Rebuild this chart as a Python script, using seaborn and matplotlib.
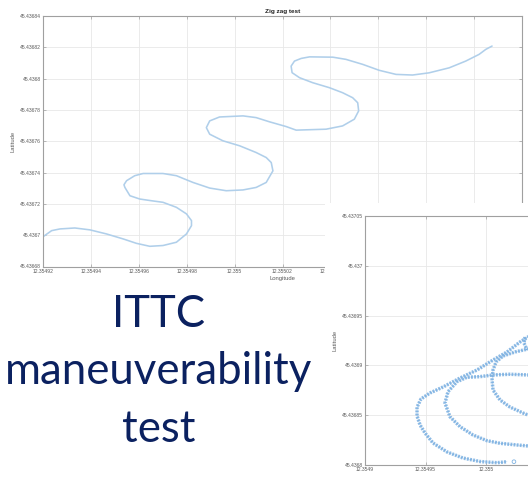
import numpy as np
import pandas as pd
import matplotlib
matplotlib.use("Agg")
import matplotlib.pyplot as plt
import seaborn as sns

# --- zig zag track: offsets from (12.35492 E, 45.43668 N) in micro-degrees ---
zz_lon = [0.1, 3.6, 7.1, 13.3, 19.6, 26.5, 33.5, 39.0, 44.6, 50.1, 55.7, 59.9, 62.0, 62.0,
          59.9, 55.7, 50.1, 45.3, 40.4, 36.3, 34.2, 33.8, 34.9, 38.3, 41.8, 50.1, 55.7, 62.6,
          69.6, 76.5, 83.5, 89.0, 93.2, 96.0, 95.3, 93.2, 89.0, 82.1, 75.1, 69.6, 68.2, 69.6,
          73.7, 83.5, 89.0, 94.6, 101.5, 105.7, 118.2, 125.1, 130.0, 131.8, 131.4, 129.3, 125.1,
          119.6, 112.6, 107.1, 104.0, 103.6, 105.0, 107.8, 111.3, 121.0, 126.5, 133.5, 140.4,
          147.4, 154.3, 161.2, 169.6, 176.5, 182.1, 184.9, 187.5]
zz_lat = [19.1, 22.9, 24.0, 24.6, 23.4, 20.8, 17.6, 14.8, 12.9, 13.4, 15.5, 20.8, 26.1, 29.3,
          33.6, 37.8, 41.0, 42.0, 43.1, 45.2, 50.5, 52.2, 54.8, 58.0, 59.4, 59.4, 58.0, 53.7,
          50.1, 48.4, 48.9, 50.5, 53.7, 61.1, 66.4, 69.6, 72.8, 77.1, 80.3, 84.5, 88.7, 93.0,
          95.5, 96.2, 95.1, 92.4, 89.4, 87.1, 87.7, 89.8, 94.1, 99.4, 104.6, 107.8, 111.0,
          114.2, 117.4, 120.6, 123.8, 128.0, 131.2, 132.9, 133.9, 133.7, 132.3, 129.1, 125.3,
          122.7, 122.3, 123.7, 126.9, 131.2, 135.5, 138.7, 140.8]

# --- turning test track strands: offsets from (12.3549 E, 45.4368 N) in micro-degrees ---
outer_lon = [144.6, 134.7, 128.1, 117.4, 105.8, 92.6, 78.5, 64.5, 53.7, 46.3, 43.0, 43.0,
             45.5, 49.6, 56.2, 67.8, 81.0, 95.0, 109.1, 117.4]
outer_lat = [135.5, 128.5, 123.5, 113.5, 105.4, 95.4, 87.3, 78.3, 72.3, 66.3, 58.2, 49.2,
             40.2, 32.1, 22.1, 13.1, 7.0, 3.5, 2.3, 3.3]
middle_lon = [144.6, 134.7, 119.8, 105.8, 95.0, 84.3, 76.0, 68.6, 66.1, 70.2, 78.5, 89.3,
              100.8, 111.6, 125.6, 134.7, 144.6]
middle_lat = [89.4, 90.4, 91.1, 90.4, 88.7, 88.1, 83.6, 73.6, 62.2, 48.5, 38.5, 30.1,
              24.4, 21.8, 20.1, 19.1, 18.1]
inner_lon = [144.6, 134.7, 124.0, 114.0, 108.3, 105.8, 105.0, 105.8, 111.6, 119.8, 130.6,
             134.7, 144.6]
inner_lat = [118.5, 116.5, 113.5, 109.4, 103.4, 95.4, 85.3, 75.3, 65.3, 58.2, 52.2, 50.2, 46.2]
edge_lon = [132.2, 131.4, 133.9]
edge_lat = [128.5, 122.5, 115.5]
stray_lon = [123.1]
stray_lat = [3.3]

# tick labels (MATLAB style); labels hidden under the pasted panel are left blank
zz_xticks = ["12.35492", "12.35494", "12.35496", "12.35498", "12.355", "12.35502",
             "12.35504", "12.35506", "12.35508", "12.3551", "12.35512"]
zz_xshown = 7
zz_yticks = ["45.43668", "45.4367", "45.43672", "45.43674", "45.43676", "45.43678",
             "45.4368", "45.43682", "45.43684"]
tc_xticks = ["12.3549", "12.35495", "12.355", "12.35505"]
tc_xshown = 3
tc_yticks = ["45.4368", "45.43685", "45.4369", "45.43695", "45.437", "45.43705"]

sns.set_theme(style="whitegrid")
plt.rcParams["font.family"] = ["Liberation Sans", "DejaVu Sans"]

W, H = 528, 479
fig = plt.figure(figsize=(W / 100, H / 100), dpi=100)
fig.patch.set_facecolor("white")

TICK_COL = "#5a5a5a"
SPINE_COL = "#a0a0a0"
GRID_COL = "#e8e8e8"


def matlab_axes(ax, xt, yt, nx):
    ax.set_xticks([float(s) for s in xt])
    ax.set_xticklabels([s if i < nx else "" for i, s in enumerate(xt)])
    ax.set_yticks([float(s) for s in yt])
    ax.set_yticklabels(yt)
    ax.set_xlim(float(xt[0]), float(xt[-1]))
    ax.set_ylim(float(yt[0]), float(yt[-1]))
    ax.set_facecolor("white")
    ax.grid(True, color=GRID_COL, lw=0.6)
    for sp in ax.spines.values():
        sp.set_color(SPINE_COL)
        sp.set_linewidth(0.8)
        sp.set_visible(True)
    ax.tick_params(axis="both", which="both", direction="in", length=2.5, width=0.5,
                   color=SPINE_COL, labelsize=3.6, labelcolor=TICK_COL, pad=1.5,
                   top=True, right=True, bottom=True, left=True)


# --- zig zag figure (top) ---
ax1 = fig.add_axes([43 / W, (H - 266.5) / H, 479 / W, 250.5 / H])
lon1 = 12.35492 + np.array(zz_lon) * 1e-6
lat1 = 45.43668 + np.array(zz_lat) * 1e-6
sns.lineplot(x=lon1, y=lat1, sort=False, estimator=None, color="#b0cfea", lw=1.15, ax=ax1)
matlab_axes(ax1, zz_xticks, zz_yticks, zz_xshown)
ax1.set_title("Zig zag test", fontsize=4.6, fontweight="bold", pad=2, color="#222222")
ax1.set_xlabel("Longitude", fontsize=4.2, color=TICK_COL, labelpad=1.5)
ax1.set_ylabel("Latitude", fontsize=4.2, color=TICK_COL, labelpad=3)

# --- white panel of the second figure pasted over the first ---
fig.add_artist(plt.Rectangle((325 / W, 0), 1 - 325 / W, (H - 203) / H,
                             transform=fig.transFigure, facecolor="white",
                             edgecolor="none", zorder=1))

# --- turning test figure (bottom right) ---
ax2 = fig.add_axes([365 / W, (H - 465) / H, 181.5 / W, 249 / H])
ax2.set_zorder(2)
parts = []
for name, xs, ys in [("outer", outer_lon, outer_lat), ("middle", middle_lon, middle_lat),
                     ("inner", inner_lon, inner_lat), ("edge", edge_lon, edge_lat)]:
    parts.append(pd.DataFrame({"strand": name,
                               "lon": 12.3549 + np.array(xs) * 1e-6,
                               "lat": 45.4368 + np.array(ys) * 1e-6}))
df = pd.concat(parts, ignore_index=True)
sns.lineplot(data=df, x="lon", y="lat", units="strand", estimator=None, sort=False,
             color="#8dbbe6", lw=2.5, linestyle=(0, (0.55, 0.35)), ax=ax2)
sns.lineplot(data=df, x="lon", y="lat", units="strand", estimator=None, sort=False,
             color="#5b9bd5", lw=0.4, alpha=0.45, ax=ax2)
sns.scatterplot(x=12.3549 + np.array(stray_lon) * 1e-6, y=45.4368 + np.array(stray_lat) * 1e-6,
                marker="o", s=7, facecolors="none", edgecolors="#7fb3e2", linewidth=0.6, ax=ax2)
matlab_axes(ax2, tc_xticks, tc_yticks, tc_xshown)
ax2.set_xlabel("")
ax2.set_ylabel("Latitude", fontsize=4.2, color=TICK_COL, labelpad=3)

# --- slide caption ---
CAP = "#0b2160"
for txt, yb in [("ITTC", 327), ("maneuverability", 384), ("test", 442)]:
    fig.text(159 / W, (H - yb) / H, txt, ha="center", va="baseline", fontsize=31.5,
             color=CAP, family=["Lato", "DejaVu Sans"])

fig.savefig("out.png", dpi=100)
